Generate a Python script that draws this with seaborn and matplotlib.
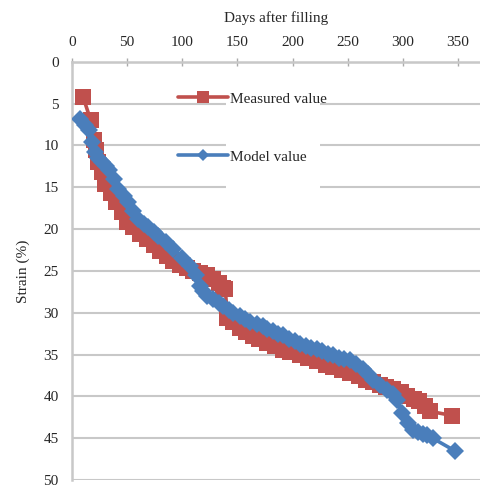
import matplotlib
matplotlib.use("Agg")
import matplotlib.pyplot as plt
from matplotlib.patches import Rectangle
import seaborn as sns
import pandas as pd

# ---- data ----
measured_days = [10, 17, 20, 22, 24, 27, 30, 35, 40, 45, 50, 55, 62, 68, 74, 80, 86, 92,
                 98, 104, 110, 116, 122, 128, 133, 137, 139, 141, 146, 152, 158, 164,
                 170, 177, 184, 191, 198, 207, 214, 222, 230, 237, 245, 252, 260, 267,
                 273, 279, 285, 291, 298, 304, 310, 315, 320, 325, 345]
measured_strain = [4.2, 7.0, 9.3, 10.5, 12.0, 13.2, 14.6, 15.7, 16.8, 18.0, 19.2, 19.8,
                   20.6, 21.2, 21.9, 22.6, 23.2, 23.8, 24.3, 24.7, 25.0, 25.2, 25.5,
                   26.0, 26.5, 27.0, 27.2, 30.6, 31.1, 31.8, 32.3, 32.8, 33.2, 33.6,
                   34.0, 34.4, 34.7, 35.0, 35.4, 35.8, 36.2, 36.5, 36.9, 37.2, 37.6,
                   38.0, 38.3, 38.6, 38.9, 39.1, 39.5, 39.9, 40.3, 40.6, 41.2, 41.8, 42.3]

model_days = [7, 12, 15, 18, 21, 24, 27, 31, 34, 38, 42, 47, 51, 55, 60, 65, 69, 74, 78,
              85, 92, 100, 107, 112, 116, 119, 122, 128, 133, 137, 142, 146, 152, 157,
              161, 168, 173, 177, 182, 187, 191, 197, 202, 207, 212, 217, 222, 227, 232,
              237, 242, 247, 252, 258, 264, 268, 273, 279, 286, 291, 295, 299, 305, 309,
              314, 318, 322, 327, 347]
model_strain = [6.8, 7.6, 8.1, 9.6, 10.8, 11.5, 12.0, 12.4, 12.9, 14.0, 15.2, 16.0, 16.8,
                17.8, 18.8, 19.4, 19.8, 20.3, 20.8, 21.6, 22.4, 23.4, 24.4, 25.5, 26.8,
                27.4, 28.0, 28.4, 28.8, 29.2, 29.7, 30.0, 30.4, 30.8, 31.1, 31.3, 31.6,
                31.9, 32.2, 32.5, 32.7, 33.1, 33.4, 33.7, 34.0, 34.2, 34.3, 34.6, 34.9,
                35.1, 35.4, 35.5, 35.7, 36.1, 36.7, 37.3, 38.0, 38.6, 39.2, 39.7, 40.4,
                42.0, 43.2, 44.0, 44.3, 44.5, 44.6, 45.0, 46.5]

x_ticks = [0, 50, 100, 150, 200, 250, 300, 350]
y_ticks = [0, 5, 10, 15, 20, 25, 30, 35, 40, 45, 50]
series_labels = ["Measured value", "Model value"]
x_title = "Days after filling"
y_title = "Strain (%)"

RED = "#C0504D"
BLUE = "#4A7EBB"
GRID = "#C8C8C8"

sns.set_style("white")
plt.rcParams["font.family"] = ["Liberation Serif", "DejaVu Serif"]

fig = plt.figure(figsize=(4.8, 4.92), dpi=100)
ax = fig.add_axes([0.15, 0.0244, 0.85, 0.850])

df_m = pd.DataFrame({"day": measured_days, "strain": measured_strain})
df_p = pd.DataFrame({"day": model_days, "strain": model_strain})

sns.lineplot(data=df_m, x="day", y="strain", ax=ax, sort=False, estimator=None,
             color=RED, linewidth=2.6, marker="s", markersize=11,
             markeredgewidth=0, label=series_labels[0], zorder=3)
sns.lineplot(data=df_p, x="day", y="strain", ax=ax, sort=False, estimator=None,
             color=BLUE, linewidth=2.6, marker="D", markersize=9.5,
             markeredgewidth=0, label=series_labels[1], zorder=4)

ax.set_xlim(0, 370)
ax.set_ylim(50, 0)
ax.set_xticks(x_ticks)
ax.set_yticks(y_ticks)
ax.xaxis.tick_top()
ax.xaxis.set_label_position("top")
ax.set_xlabel(x_title, fontsize=11, labelpad=10)
ax.set_ylabel(y_title, fontsize=11, labelpad=10)
ax.tick_params(axis="x", which="both", top=True, bottom=False, direction="inout",
               length=6, width=1, color="#AAAAAA", labelsize=11, pad=6)
ax.tick_params(axis="y", left=False, labelsize=11, pad=6)

ax.yaxis.grid(True, color=GRID, linewidth=1.5)
ax.xaxis.grid(False)
ax.set_axisbelow(True)
for side in ["right", "bottom"]:
    ax.spines[side].set_visible(False)
for side in ["left", "top"]:
    ax.spines[side].set_color("#C8C8C8")
    ax.spines[side].set_linewidth(1.8)

# white area behind legend text
ax.add_patch(Rectangle((0.377, 0.682), 0.231, 0.27, transform=ax.transAxes,
                       facecolor="white", edgecolor="none", zorder=1))

leg = ax.legend(loc="upper left", bbox_to_anchor=(0.26, 0.928), frameon=False,
                fontsize=11, handlelength=3.3, handletextpad=0.1, labelspacing=2.9,
                borderpad=0, borderaxespad=0)
leg.legend_handles[0].set_markersize(9)
leg.legend_handles[1].set_markersize(6)

fig.savefig("out.png", dpi=100)
